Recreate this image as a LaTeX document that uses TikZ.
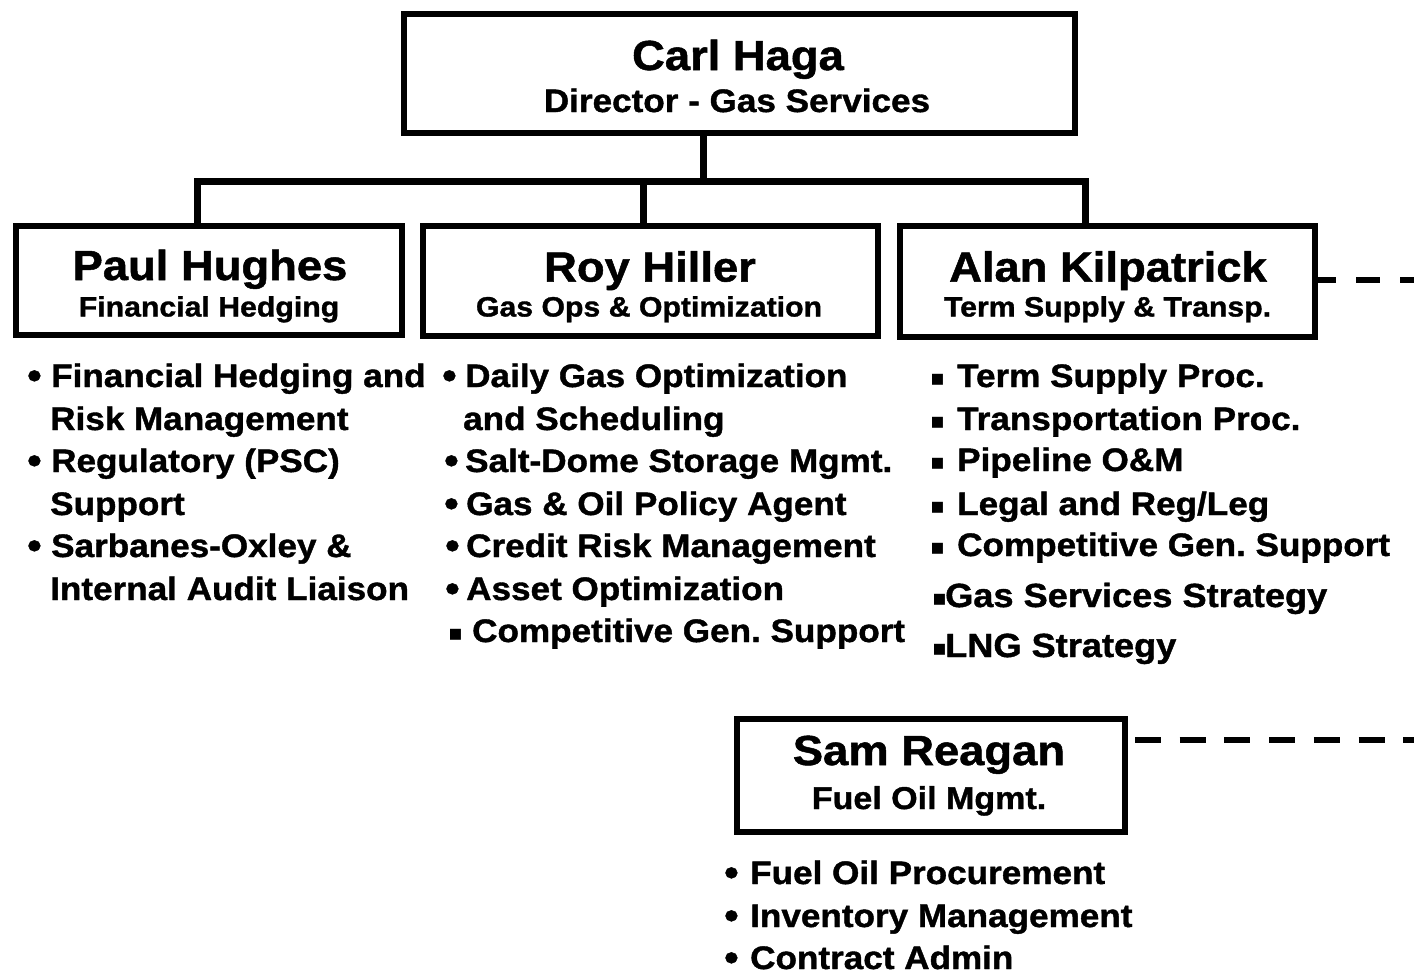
\documentclass[tikz,border=0pt]{standalone}
\usepackage{fontspec}
\usepackage{graphicx}
\setmainfont{Liberation Sans}[FakeStretch=1.08, BoldFeatures={FakeBold=1.2}]
\newfontfamily\dv{DejaVu Sans}
\frenchspacing
\newcommand\fs[1]{\fontsize{#1}{#1}\selectfont\bfseries}
\newcommand\bul[1]{\makebox[#1pt][l]{\hspace{-1pt}\raisebox{-1.5pt}{\scalebox{1.18}{•}}}}
\newcommand\sqb[1]{\makebox[#1pt][l]{\raisebox{2pt}{\dv\fontsize{22}{22}\selectfont ▪}}}
\begin{document}
\begin{tikzpicture}[x=1pt,y=-1pt,
  orgbox/.style={draw, line width=6pt, inner sep=0pt, rectangle},
  conn/.style={line width=7pt},
  dashline/.style={line width=6pt},
  pname/.style={anchor=base, inner sep=0pt, font=\fs{42}},
  ptitle/.style={anchor=base, inner sep=0pt, font=\fs{28}},
  item/.style={anchor=base west, inner sep=0pt, font=\fs{32.5}},
]
\useasboundingbox (0,0) rectangle (1414,978);

% boxes
\node[orgbox, minimum width=671pt, minimum height=119pt] (carl) at (739.5,73.5) {};
\node[orgbox, minimum width=386pt, minimum height=109pt] (paul) at (208.5,280.5) {};
\node[orgbox, minimum width=455pt, minimum height=110pt] (roy) at (650.5,281) {};
\node[orgbox, minimum width=415pt, minimum height=111pt] (alan) at (1107.5,281.5) {};
\node[orgbox, minimum width=388.5pt, minimum height=113.5pt] (sam) at (930.75,775.25) {};

% box texts
\node[pname] (carlname) at (738,70) {Carl Haga};
\node[ptitle, font=\fs{32.5}] (carltitle) at (737,112) {Director - Gas Services};
\node[pname] (paulname) at (210,280) {Paul Hughes};
\node[ptitle] (paultitle) at (209,316.5) {Financial Hedging};
\node[pname] (royname) at (650,281.5) {Roy Hiller};
\node[ptitle] (roytitle) at (649,316.5) {Gas Ops \& Optimization};
\node[pname] (alanname) at (1108,281.5) {Alan Kilpatrick};
\node[ptitle] (alantitle) at (1107.5,316.5) {Term Supply \& Transp.};
\node[pname] (samname) at (929,765) {Sam Reagan};
\node[ptitle, font=\fs{31.5}] (samtitle) at (929,809) {Fuel Oil Mgmt.};

% connectors
\coordinate (bus) at (703,181);
\coordinate (busL) at (197,181);
\coordinate (busM) at (643,181);
\coordinate (busR) at (1085,181);
\draw[conn] (carl.south -| bus) -- (bus);
\draw[conn] (paul.north -| busL) -- (busL) -- (busR) -- (alan.north -| busR);
\draw[conn] (busM) -- (roy.north -| busM);

\coordinate (alanout) at (1414,280);
\draw[dashline, dash pattern=on 24pt off 20pt, dash phase=6pt] (alan.east |- alanout) -- (alanout);
\coordinate (samout) at (1414,740);
\draw[dashline, dash pattern=on 26pt off 18.7pt, dash phase=37.7pt] (sam.east |- samout) -- (samout);

% Paul list
\node[item] (p1) at (28,387) {\bul{23}Financial Hedging and};
\node[item] (p2) at (50,430) {Risk Management};
\node[item] (p3) at (28,472) {\bul{23}Regulatory (PSC)};
\node[item] (p4) at (50,515) {Support};
\node[item] (p5) at (28,557) {\bul{23}Sarbanes-Oxley \&};
\node[item] (p6) at (50,600) {Internal Audit Liaison};

% Roy list
\node[item] (r1) at (443,387) {\bul{22}Daily Gas Optimization};
\node[item] (r2) at (463,430) {and Scheduling};
\node[item] (r3) at (445,472) {\bul{20}Salt-Dome Storage Mgmt.};
\node[item] (r4) at (445,515) {\bul{21}Gas \& Oil Policy Agent};
\node[item] (r5) at (446,557) {\bul{20}Credit Risk Management};
\node[item] (r6) at (446,600) {\bul{20}Asset Optimization};
\node[item] (r7) at (448,642) {\sqb{24}Competitive Gen. Support};

% Alan list
\node[item] (a1) at (930,387) {\sqb{27}Term Supply Proc.};
\node[item] (a2) at (930,430) {\sqb{27}Transportation Proc.};
\node[item] (a3) at (930,471) {\sqb{27}Pipeline O\&M};
\node[item] (a4) at (930,515) {\sqb{27}Legal and Reg/Leg};
\node[item] (a5) at (930,556) {\sqb{27}Competitive Gen. Support};
\node[item, font=\fs{33.5}] (a6) at (932,607) {\sqb{13}Gas Services Strategy};
\node[item, font=\fs{33.5}] (a7) at (932,657) {\sqb{13}LNG Strategy};

% Sam list
\node[item] (s1) at (725,884) {\bul{25}Fuel Oil Procurement};
\node[item] (s2) at (725,927) {\bul{25}Inventory Management};
\node[item] (s3) at (725,969) {\bul{25}Contract Admin};
\end{tikzpicture}
\end{document}
